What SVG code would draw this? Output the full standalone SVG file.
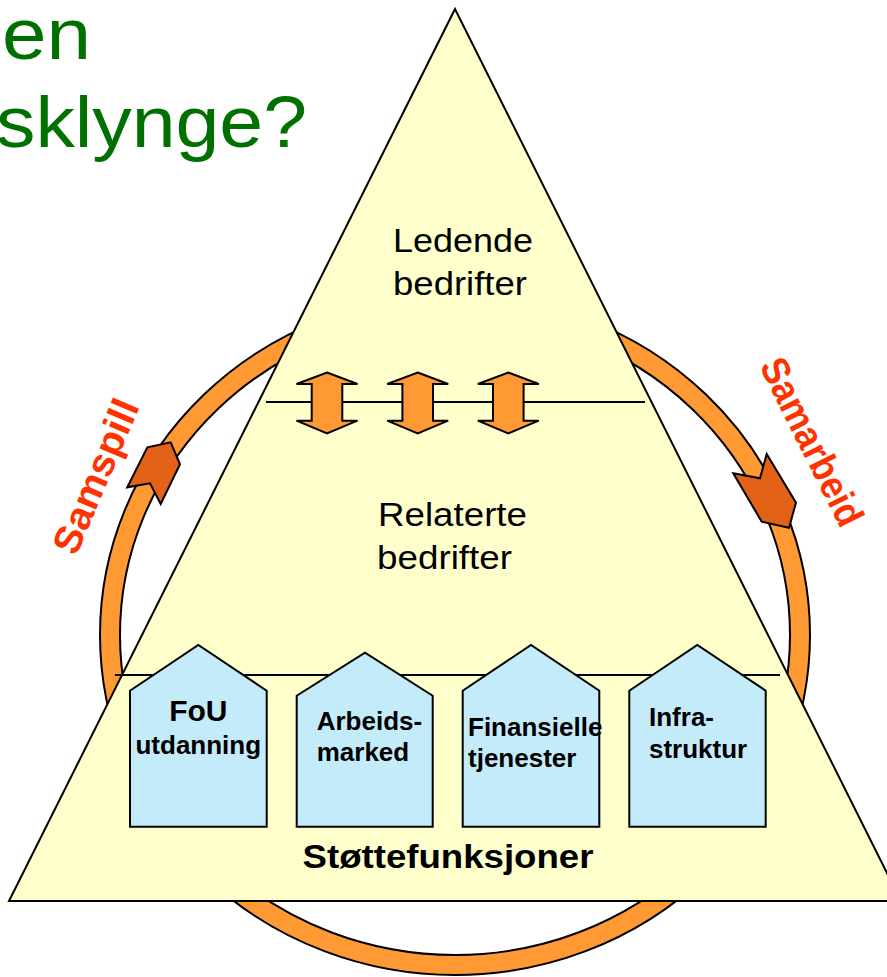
<svg xmlns="http://www.w3.org/2000/svg" xmlns:xlink="http://www.w3.org/1999/xlink" width="887" height="977" viewBox="0 0 887 977">
  <style>
    .title { font-family: "Liberation Sans", Arial, sans-serif; font-size: 72px; fill: #007000; }
    .lvl { font-family: "Liberation Sans", Arial, sans-serif; font-size: 33px; fill: #000; }
    .house { fill: #C4EBFA; stroke: #000; stroke-width: 2; stroke-linejoin: miter; }
    .htxt { font-family: "Liberation Sans", Arial, sans-serif; font-size: 26px; font-weight: bold; fill: #000; }
    .side { font-family: "Liberation Sans", Arial, sans-serif; font-size: 39px; font-weight: bold; fill: #FF3300; }
    .darr { fill: #FF9933; stroke: #000; stroke-width: 2; stroke-linejoin: miter; }
    .head { fill: #E46118; stroke: #000; stroke-width: 2; stroke-linejoin: miter; }
    .div { stroke: #000; stroke-width: 2; fill: none; }
  </style>
  <defs>
    <path id="dblArrow" class="darr" d="M0,-30.5 L30.5,-19 L15.3,-19 L15.3,17.7 L30.5,17.7 L0,30.5 L-30.5,17.7 L-15.3,17.7 L-15.3,-19 L-30.5,-19 Z"/>
  </defs>
  <rect width="887" height="977" fill="#FFFFFF"/>

  <g id="title">
    <text class="title" x="2" y="59" textLength="89" lengthAdjust="spacingAndGlyphs">en</text>
    <text class="title" x="-4" y="147" textLength="311" lengthAdjust="spacingAndGlyphs">sklynge?</text>
  </g>

  <g id="ring">
    <path d="M100,635 a355,340 0 1,0 710,0 a355,340 0 1,0 -710,0 Z M120,635 a335,320 0 1,0 670,0 a335,320 0 1,0 -670,0 Z" fill="#FF9933" fill-rule="evenodd" stroke="#000" stroke-width="2"/>
  </g>

  <g id="pyramid">
    <polygon points="455,9 9,901 901,901" fill="#FFFFCC" stroke="#000" stroke-width="2" stroke-linejoin="miter"/>
  </g>

  <g id="dividers">
    <line class="div" x1="266" y1="402" x2="645" y2="402"/>
    <line class="div" x1="115" y1="675" x2="780" y2="675"/>
  </g>

  <g id="connectors">
    <g id="ring-arrows">
      <polygon class="head" points="127.3,487.3 147.3,447.3 170.7,442.3 180,464.3 160.7,504 150,483.3"/>
      <polygon class="head" points="733.3,473.3 760,478.3 766.7,454 796,502.7 789,527.7 761.7,521.7"/>
    </g>
    <g id="level-arrows">
      <use xlink:href="#dblArrow" href="#dblArrow" x="327" y="403"/>
      <use xlink:href="#dblArrow" href="#dblArrow" x="417.7" y="403"/>
      <use xlink:href="#dblArrow" href="#dblArrow" x="508.3" y="403"/>
    </g>
  </g>

  <g id="node-ledende">
    <text class="lvl" x="393" y="252" textLength="140" lengthAdjust="spacingAndGlyphs">Ledende</text>
    <text class="lvl" x="393" y="295" textLength="134" lengthAdjust="spacingAndGlyphs">bedrifter</text>
  </g>

  <g id="node-relaterte">
    <text class="lvl" x="378" y="526" textLength="149" lengthAdjust="spacingAndGlyphs">Relaterte</text>
    <text class="lvl" x="377" y="569" textLength="135" lengthAdjust="spacingAndGlyphs">bedrifter</text>
  </g>

  <g id="node-fou">
    <polygon class="house" points="130,826.7 130,690.7 198.3,645 266.7,690.7 266.7,826.7"/>
    <text class="htxt" x="198.3" y="721" text-anchor="middle" style="font-size:30px">FoU</text>
    <text class="htxt" x="198.3" y="754" text-anchor="middle">utdanning</text>
  </g>

  <g id="node-arbeidsmarked">
    <polygon class="house" points="296.7,826.7 296.7,695.7 365,652.7 432.7,695.7 432.7,826.7"/>
    <text class="htxt" x="316.7" y="730">Arbeids-</text>
    <text class="htxt" x="316.7" y="761">marked</text>
  </g>

  <g id="node-finansielle">
    <polygon class="house" points="462.7,826.7 462.7,690.7 531,645 599.3,690.7 599.3,826.7"/>
    <text class="htxt" x="468" y="736">Finansielle</text>
    <text class="htxt" x="468" y="767">tjenester</text>
  </g>

  <g id="node-infrastruktur">
    <polygon class="house" points="629.3,826.7 629.3,690.7 697.3,645 765.7,690.7 765.7,826.7"/>
    <text class="htxt" x="649" y="726">Infra-</text>
    <text class="htxt" x="649" y="758">struktur</text>
  </g>

  <g id="node-stottefunksjoner">
    <text class="htxt" x="302.5" y="868" style="font-size:33px" textLength="291" lengthAdjust="spacingAndGlyphs">Støttefunksjoner</text>
  </g>

  <g id="label-samspill">
    <text class="side" transform="translate(76,557) rotate(-67)" x="0" y="0" textLength="164" lengthAdjust="spacingAndGlyphs">Samspill</text>
  </g>
  <g id="label-samarbeid">
    <text class="side" transform="translate(759,366) rotate(63.4)" x="0" y="0" textLength="183" lengthAdjust="spacingAndGlyphs">Samarbeid</text>
  </g>
</svg>
